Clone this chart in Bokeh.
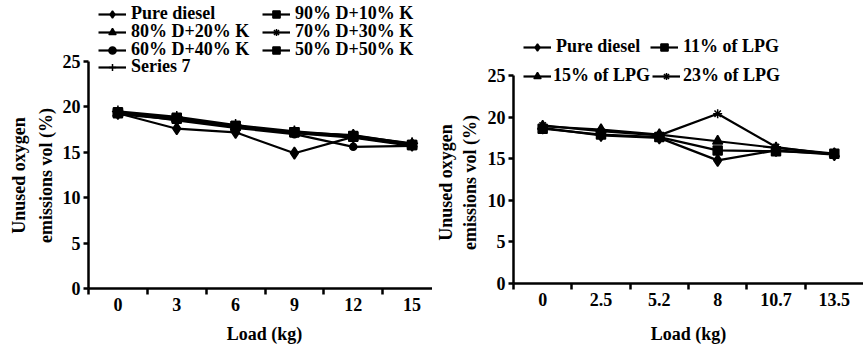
import math
from bokeh.plotting import figure
from bokeh.models import Range1d, FixedTicker, Legend, LegendItem, Label, LinearAxis
from bokeh.layouts import row
from bokeh.embed import file_html
from bokeh.resources import INLINE

# ---------------- data ----------------
left_loads = ["0", "3", "6", "9", "12", "15"]
left_names = ["Pure diesel", "90% D+10% K", "80% D+20% K", "70% D+30% K",
              "60% D+40% K", "50% D+50% K", "Series 7"]
left_pure_diesel = [19.3, 17.6, 17.2, 14.9, 16.7, 15.8]
left_90d_10k = [19.4, 18.8, 17.9, 17.2, 16.8, 15.8]
left_80d_20k = [19.3, 18.7, 17.8, 17.2, 16.9, 15.9]
left_70d_30k = [19.2, 18.6, 17.8, 17.1, 16.6, 15.7]
left_60d_40k = [19.4, 18.5, 17.7, 17.0, 15.6, 15.7]
left_50d_50k = [19.3, 18.7, 17.9, 17.2, 16.7, 15.8]
left_series7 = [19.5, 18.9, 18.0, 17.3, 16.8, 16.0]

right_loads = ["0", "2.5", "5.2", "8", "10.7", "13.5"]
right_names = ["Pure diesel", "11% of LPG", "15% of LPG", "23% of LPG"]
right_pure_diesel = [18.7, 17.8, 17.5, 14.8, 16.0, 15.5]
right_lpg_11 = [18.6, 17.9, 17.6, 16.0, 15.9, 15.6]
right_lpg_15 = [18.9, 18.5, 17.9, 17.1, 16.3, 15.6]
right_lpg_23 = [19.0, 18.3, 17.8, 20.4, 16.4, 15.5]

y_ticks = [0, 5, 10, 15, 20, 25]
y_max = 25
x_title = "Load (kg)"
y_title = "Unused oxygen\nemissions vol (%)"

# ---------------- layout constants (pixels) ----------------
FONT = "Liberation Serif"
H = 348
SPLIT = 432          # page x where the right figure starts
W_L = SPLIT
W_R = 863 - SPLIT


def make_fig(fig_left, width, ax_x0, ax_x1, ax_y0, ax_ytop, loads):
    """ax_* are page pixel positions of the axis ends."""
    n = len(loads)
    ppx = (ax_x1 - ax_x0) / n
    x_lo = -0.5 - (ax_x0 - fig_left) / ppx
    x_hi = -0.5 + (fig_left + width - ax_x0) / ppx
    ppy = (ax_y0 - ax_ytop) / y_max
    y_lo = -(H - ax_y0) / ppy
    y_hi = y_max + ax_ytop / ppy
    p = figure(width=width, height=H, output_backend="svg", toolbar_location=None,
               x_range=Range1d(x_lo, x_hi), y_range=Range1d(y_lo, y_hi),
               x_axis_location=None, y_axis_location=None, min_border=0)
    p.grid.visible = False
    p.outline_line_color = None
    p.background_fill_color = "white"
    p.border_fill_color = "white"

    xa = LinearAxis(fixed_location=0, bounds=(-0.5, n - 0.5))
    xa.ticker = FixedTicker(ticks=list(range(n)), minor_ticks=[i - 0.5 for i in range(n)])
    xa.major_label_overrides = {i: lab for i, lab in enumerate(loads)}
    xa.major_tick_line_color = None
    xa.major_tick_out = 6
    xa.major_tick_in = 0
    xa.minor_tick_out = 6
    xa.minor_tick_in = 0
    xa.minor_tick_line_width = 2.5
    xa.minor_tick_line_color = "black"
    xa.axis_line_width = 2.5
    xa.axis_line_color = "black"
    xa.major_label_standoff = 3

    ya = LinearAxis(fixed_location=-0.5, bounds=(0, y_max))
    ya.ticker = FixedTicker(ticks=y_ticks, minor_ticks=[])
    ya.major_tick_out = 5
    ya.major_tick_in = 0
    ya.major_tick_line_width = 2.5
    ya.axis_line_width = 2.5
    ya.major_label_standoff = 3
    for ax in (xa, ya):
        ax.major_label_text_font = FONT
        ax.major_label_text_font_style = "bold"
        ax.major_label_text_font_size = "18px"
        ax.major_label_text_color = "black"
    p.add_layout(xa, "below")
    p.add_layout(ya, "left")
    return p


def add_titles(p, fig_left, xt_center_x, xt_center_y, yt_center_x, yt_center_y, lh):
    p.add_layout(Label(x=xt_center_x - fig_left, y=H - xt_center_y,
                       x_units="screen", y_units="screen",
                       text=x_title, text_align="center", text_baseline="middle",
                       text_font=FONT, text_font_style="bold", text_font_size="18px",
                       text_color="black"))
    p.add_layout(Label(x=yt_center_x - fig_left, y=H - yt_center_y,
                       x_units="screen", y_units="screen",
                       text=y_title, angle=math.pi / 2, text_align="center",
                       text_baseline="middle", text_line_height=lh,
                       text_font=FONT, text_font_style="bold", text_font_size="18px",
                       text_color="black"))


def add_series(p, xs, ys, marker, size):
    rl = p.line(xs, ys, line_width=2.2, line_color="black")
    rm = p.scatter(xs, ys, marker=marker, size=size, fill_color="black",
                   line_color="black", line_width=1.5)
    return [rl, rm]


def add_legend_item(p, fig_left, renderers, label, glyph_x, center_y, standoff=5):
    leg = Legend(items=[LegendItem(label=label, renderers=renderers)],
                 location=(glyph_x - fig_left, H - (center_y + 9)),
                 orientation="vertical",
                 label_text_font=FONT, label_text_font_style="bold",
                 label_text_font_size="18px", label_text_color="black",
                 glyph_width=28, glyph_height=18, label_height=18,
                 label_standoff=standoff, spacing=0, padding=0, margin=0,
                 border_line_color=None, background_fill_alpha=0)
    p.add_layout(leg)


# ---------------- left chart ----------------
pl = make_fig(0, W_L, 88, 441, 288, 61, left_loads)
xl = list(range(len(left_loads)))
left_series = [left_pure_diesel, left_90d_10k, left_80d_20k, left_70d_30k,
               left_60d_40k, left_50d_50k, left_series7]
left_markers = [("diamond", 12), ("square", 9), ("triangle", 10), ("asterisk", 9),
                ("circle", 7), ("square", 9), ("cross", 12)]
left_r = [add_series(pl, xl, ys, m, s) for ys, (m, s) in zip(left_series, left_markers)]
add_titles(pl, 0, 264, 333, 32, 175, 1.35)

col_x = [98, 262]
row_c = [15, 33, 51, 68]
left_pos = [(0, 0), (1, 0), (0, 1), (1, 1), (0, 2), (1, 2), (0, 3)]
for r, name, (c, rr) in zip(left_r, left_names, left_pos):
    add_legend_item(pl, 0, r, name, col_x[c], row_c[rr])

# ---------------- right chart ----------------
pr = make_fig(SPLIT, W_R, 513, 863, 283, 75, right_loads)
xr = list(range(len(right_loads)))
right_series = [right_pure_diesel, right_lpg_11, right_lpg_15, right_lpg_23]
right_markers = [("diamond", 12), ("square", 9), ("triangle", 10), ("asterisk", 9)]
right_r = [add_series(pr, xr, ys, m, s) for ys, (m, s) in zip(right_series, right_markers)]
add_titles(pr, SPLIT, 688, 333, 457, 182, 1.2)

right_pos = [(523, 48, 5), (650, 48, 5), (523, 77, 2), (652, 77, 3)]
for r, name, (gx, cy, so) in zip(right_r, right_names, right_pos):
    add_legend_item(pr, SPLIT, r, name, gx, cy, so)

layout = row(pl, pr, spacing=0)
open("out.html", "w").write(file_html(layout, INLINE))
